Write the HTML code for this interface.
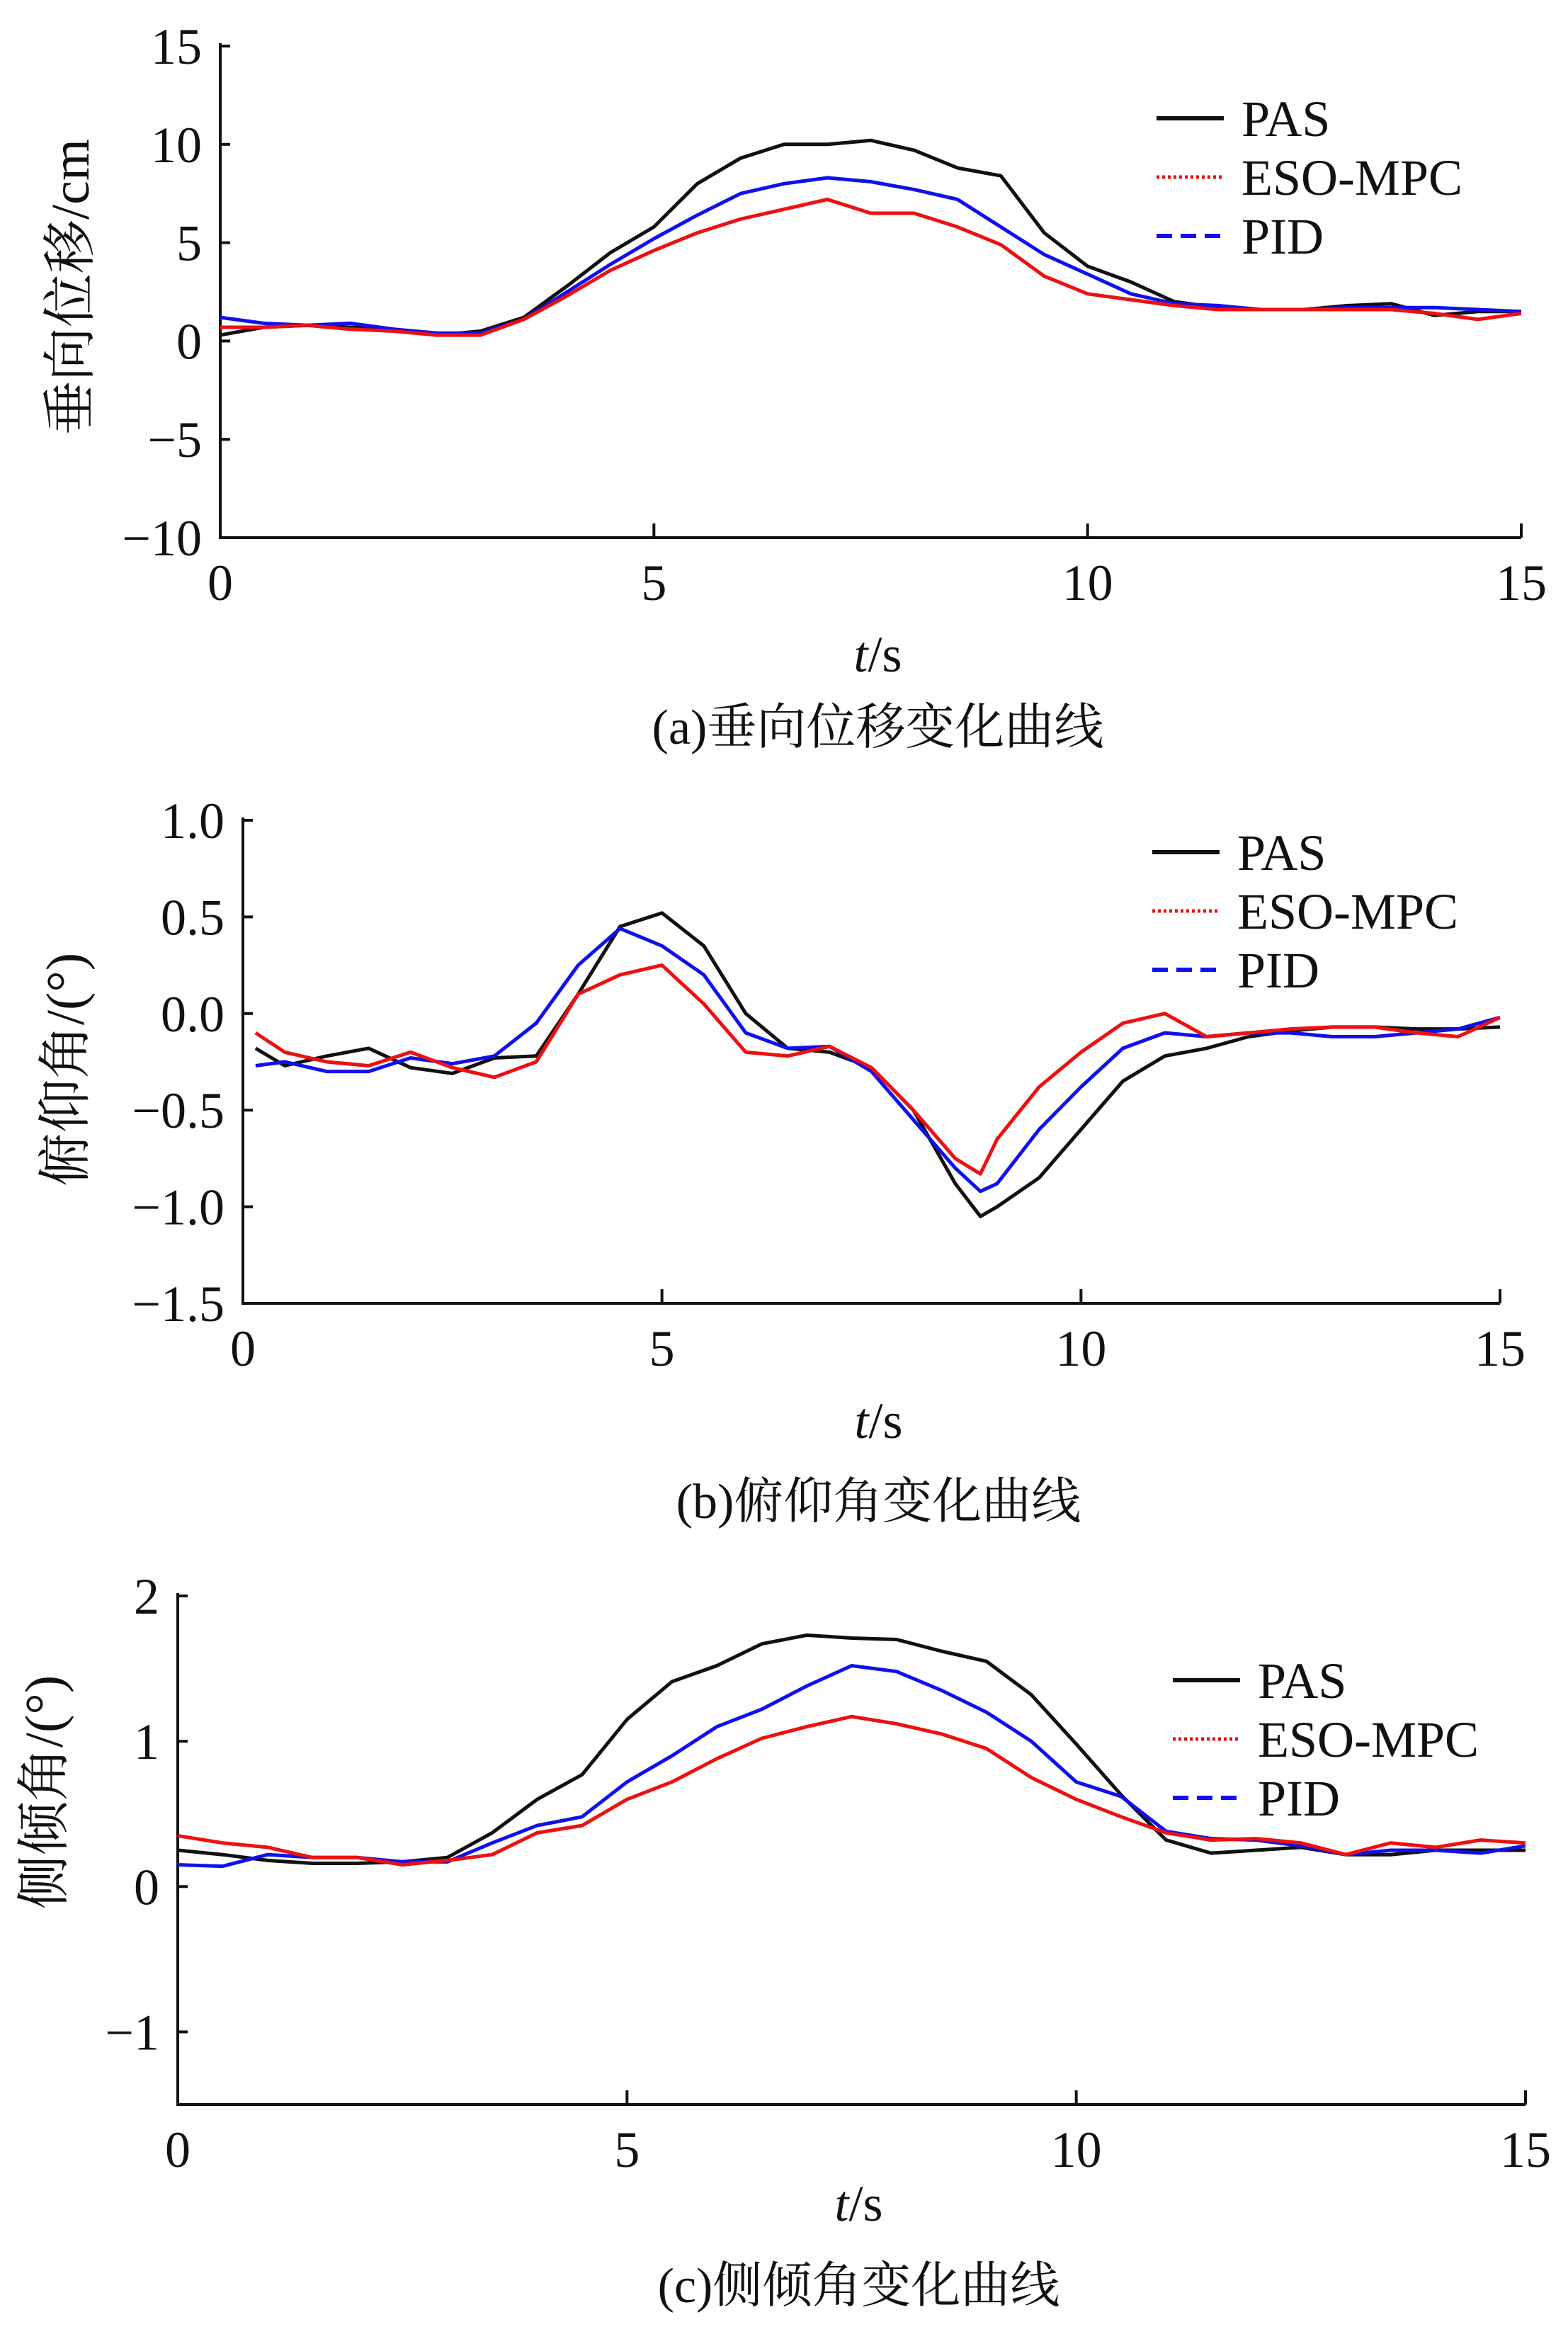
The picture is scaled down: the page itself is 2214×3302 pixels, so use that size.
<!DOCTYPE html>
<html><head><meta charset="utf-8"><style>
html,body{margin:0;padding:0;background:#fff}
svg{display:block}
text{font-family:"Liberation Serif","Noto Serif CJK SC","Noto Sans CJK SC",serif;fill:#111}
</style></head><body>
<svg id="fig" width="2214" height="3302" viewBox="0 0 2214 3302" xmlns="http://www.w3.org/2000/svg"></svg>
<script>
const tA=[0,0.5,1,1.5,2,2.5,3,3.5,4,4.5,5,5.5,6,6.5,7,7.5,8,8.5,9,9.5,10,10.5,11,11.5,12,12.5,13,13.5,14,14.5,15];
const aPAS=[0.3,0.7,0.8,0.7,0.6,0.3,0.5,1.2,2.8,4.5,5.8,8.0,9.3,10.0,10.0,10.2,9.7,8.8,8.4,5.5,3.8,3.0,2.0,1.7,1.6,1.6,1.8,1.9,1.3,1.5,1.5];
const aESO=[0.7,0.7,0.8,0.6,0.5,0.3,0.3,1.1,2.3,3.6,4.6,5.5,6.2,6.7,7.2,6.5,6.5,5.8,4.9,3.3,2.4,2.1,1.8,1.6,1.6,1.6,1.6,1.6,1.4,1.1,1.4];
const aPID=[1.2,0.9,0.8,0.9,0.6,0.4,0.4,1.1,2.5,3.9,5.2,6.4,7.5,8.0,8.3,8.1,7.7,7.2,5.8,4.4,3.4,2.4,1.9,1.8,1.6,1.6,1.7,1.7,1.7,1.6,1.5];
const tB=[0.15,0.5,1,1.5,2,2.5,3,3.5,4,4.5,5,5.5,6,6.5,7,7.5,8,8.5,8.8,9,9.5,10,10.5,11,11.5,12,12.5,13,13.5,14,14.5,15];
const bPAS=[-0.18,-0.27,-0.22,-0.18,-0.28,-0.31,-0.23,-0.22,0.1,0.45,0.52,0.35,0.0,-0.18,-0.2,-0.28,-0.5,-0.88,-1.05,-1.0,-0.85,-0.6,-0.35,-0.22,-0.18,-0.12,-0.09,-0.07,-0.07,-0.08,-0.08,-0.07];
const bESO=[-0.1,-0.2,-0.25,-0.27,-0.2,-0.28,-0.33,-0.25,0.1,0.2,0.25,0.05,-0.2,-0.22,-0.17,-0.28,-0.5,-0.75,-0.83,-0.65,-0.38,-0.2,-0.05,0.0,-0.12,-0.1,-0.08,-0.07,-0.07,-0.1,-0.12,-0.02];
const bPID=[-0.27,-0.25,-0.3,-0.3,-0.23,-0.26,-0.22,-0.05,0.25,0.44,0.35,0.2,-0.1,-0.18,-0.17,-0.3,-0.55,-0.8,-0.92,-0.88,-0.6,-0.38,-0.18,-0.1,-0.12,-0.1,-0.1,-0.12,-0.12,-0.1,-0.08,-0.02];
const tC=tA;
const cPAS=[0.25,0.22,0.18,0.16,0.16,0.17,0.2,0.37,0.6,0.77,1.15,1.41,1.52,1.67,1.73,1.71,1.7,1.62,1.55,1.32,0.98,0.63,0.32,0.23,0.25,0.27,0.22,0.22,0.25,0.25,0.25];
const cESO=[0.35,0.3,0.27,0.2,0.2,0.15,0.18,0.22,0.37,0.42,0.6,0.72,0.88,1.02,1.1,1.17,1.12,1.05,0.95,0.75,0.6,0.48,0.37,0.32,0.33,0.3,0.22,0.3,0.27,0.32,0.3];
const cPID=[0.15,0.14,0.22,0.2,0.2,0.17,0.17,0.3,0.42,0.48,0.72,0.9,1.1,1.22,1.38,1.52,1.48,1.35,1.2,1.0,0.72,0.62,0.38,0.33,0.32,0.28,0.22,0.25,0.25,0.23,0.28];
const xTicks=[0,5,10,15];
const aTicks=[15,10,5,0,-5,-10];
const bTicks=[1.0,0.5,0.0,-0.5,-1.0,-1.5];
const cTicks=[2,1,0,-1];

const NS="http://www.w3.org/2000/svg";
const svg=document.getElementById('fig');
function mk(tag,attrs,parent){const e=document.createElementNS(NS,tag);for(const k in attrs)e.setAttribute(k,attrs[k]);(parent||svg).appendChild(e);return e;}
function fmt(v,dec){const s=Math.abs(v).toFixed(dec);return (v<0?'\u2212':'')+s;}

function panel(p){
  const g=mk('g',{});
  
  
  const X=t=>p.x0+(t-0)/15*(p.x1-p.x0);
  const Y=v=>p.yB+(v-p.ymin)/(p.ymax-p.ymin)*(p.yT-p.yB);
  const ax=mk('path',{d:`M${p.x0},${p.yT-4} V${p.yB} H${p.x1}`,fill:'none',stroke:'#111','stroke-width':4},g);
  
  
  xTicks.forEach(t=>{
    const x=X(t);
    if(t>0) mk('line',{x1:x,x2:x,y1:p.yB,y2:p.yB-20,stroke:'#111','stroke-width':4},g);
    const tx=mk('text',{x:x,y:p.yB+88,'text-anchor':'middle','font-size':72},g);
    tx.textContent=t;
    
    
  });
  p.ticks.forEach(v=>{
    const y=Y(v);
    mk('line',{x1:p.x0,x2:p.x0+14,y1:y,y2:y,stroke:'#111','stroke-width':4},g);
    const tx=mk('text',{x:p.x0-26,y:y+25,'text-anchor':'end','font-size':72},g);
    tx.textContent=fmt(v,p.dec);
    
    
  });
  const ser=[[p.pas,'#111','pas'],[p.pid,'#1010ee','pid'],[p.eso,'#ee1010','eso-mpc']];
  ser.forEach(([vals,col,nm])=>{
    const d=vals.map((v,i)=>(i?'L':'M')+X(p.t[i]).toFixed(1)+','+Y(v).toFixed(1)).join(' ');
    const pl=mk('path',{d:d,fill:'none',stroke:col,'stroke-width':5,'stroke-linejoin':'round'},g);
    
    
  });
  const lg=mk('g',{},g);
  
  
  const items=[['PAS','#111',''],['ESO-MPC','#ee1010','4 4'],['PID','#1010ee','22 12']];
  items.forEach(([lab,col,dash],i)=>{
    const y=p.lgY+i*83;
    const ln=mk('line',{x1:p.lgX,x2:p.lgX+95,y1:y,y2:y,stroke:col,'stroke-width':dash==='4 4'?5:6,'stroke-dasharray':dash},lg);
    
    
    const tx=mk('text',{x:p.lgX+120,y:y+25,'font-size':72},lg);
    tx.textContent=lab;
    
    
  });
  const xt=mk('text',{x:(p.x0+p.x1)/2+10,y:p.xtY,'text-anchor':'middle','font-size':72},g);
  xt.innerHTML='<tspan font-style="italic">t</tspan>/s';
  
  
  const yt=mk('text',{x:0,y:0,'text-anchor':'middle','font-size':76,transform:`translate(${p.ytX},${p.ytY}) rotate(-90)`},g);
  yt.textContent=p.ytitle;
  
  
  const cp=mk('text',{x:(p.x0+p.x1)/2+10,y:p.capY,'text-anchor':'middle','font-size':70},g);
  cp.textContent=p.cap;
  
  
}

panel({id:'vertical-displacement',x0:311,x1:2148,yT:65,yB:759,ymin:-10,ymax:15,ticks:aTicks,dec:0,t:tA,pas:aPAS,eso:aESO,pid:aPID,lgX:1633,lgY:167,xtY:948,ytX:125,ytY:405,ytitle:'垂向位移/cm',capY:1050,cap:'(a)垂向位移变化曲线'});
panel({id:'pitch-angle',x0:343,x1:2118,yT:1158,yB:1840,ymin:-1.5,ymax:1.0,ticks:bTicks,dec:1,t:tB,pas:bPAS,eso:bESO,pid:bPID,lgX:1627,lgY:1203,xtY:2030,ytX:118,ytY:1510,ytitle:'俯仰角/(°)',capY:2143,cap:'(b)俯仰角变化曲线'});
panel({id:'roll-angle',x0:251,x1:2154,yT:2253,yB:2971,ymin:-1.5,ymax:2,ticks:cTicks,dec:0,t:tC,pas:cPAS,eso:cESO,pid:cPID,lgX:1656,lgY:2372,xtY:3135,ytX:88,ytY:2530,ytitle:'侧倾角/(°)',capY:3250,cap:'(c)侧倾角变化曲线'});
</script>
</body></html>
